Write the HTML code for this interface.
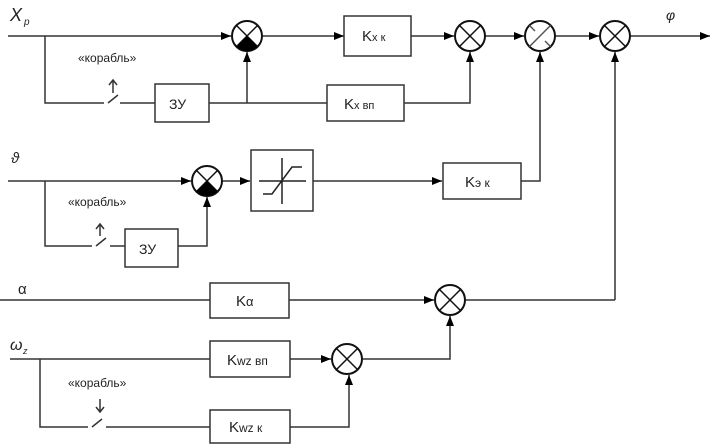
<!DOCTYPE html><html><head><style>body{margin:0;background:#fff}svg{display:block}text{font-family:"Liberation Sans",sans-serif;fill:#222}</style></head><body>
<svg width="712" height="446" viewBox="0 0 712 446" xmlns="http://www.w3.org/2000/svg">
<defs><marker id="a" markerWidth="10" markerHeight="8" refX="10" refY="4" orient="auto" markerUnits="userSpaceOnUse"><path d="M0,0L10,4L0,8z" fill="#000"/></marker></defs>
<g stroke="#333" stroke-width="1.5" fill="none">
<!-- row1 -->
<path d="M8,36H231" marker-end="url(#a)"/>
<path d="M262,36H344" marker-end="url(#a)"/>
<path d="M411,36H454" marker-end="url(#a)"/>
<path d="M485,36H524" marker-end="url(#a)"/>
<path d="M555,36H599" marker-end="url(#a)"/>
<path d="M630,36H710" marker-end="url(#a)"/>
<path d="M45,36V103H104M108,103L118,95M120,103H155"/>
<path d="M113,93V80M109,85L113,80L117,85"/>
<rect x="155" y="84" width="54" height="38"/>
<path d="M209,103H327"/>
<path d="M247,103V52" marker-end="url(#a)"/>
<rect x="344" y="16" width="67" height="40"/>
<rect x="327" y="85" width="77" height="36"/>
<path d="M404,103H470V52" marker-end="url(#a)"/>
<!-- row2 -->
<path d="M8,181H191" marker-end="url(#a)"/>
<path d="M222,181H250" marker-end="url(#a)"/>
<path d="M45,181V246H92M96,246L106,238M110,246H125"/>
<path d="M100,236V224M96,229L100,224L104,229"/>
<rect x="125" y="229" width="53" height="38"/>
<path d="M178,246H207V197" marker-end="url(#a)"/>
<rect x="251" y="150" width="62" height="61"/>
<path d="M313,181H442" marker-end="url(#a)"/>
<rect x="443" y="163" width="78" height="36"/>
<path d="M521,181H540V52" marker-end="url(#a)"/>
<path d="M615,300V52" marker-end="url(#a)"/>
<!-- limiter -->
<path d="M259,181H306M282,158V204M263,194H272L292,167H302" stroke="#222"/>
<!-- row3 -->
<path d="M0,300H210"/>
<rect x="210" y="283" width="79" height="35"/>
<path d="M289,300H434" marker-end="url(#a)"/>
<path d="M466,300H615"/>
<!-- row4 -->
<path d="M10,359H210"/>
<rect x="210" y="341" width="80" height="36"/>
<path d="M290,359H331" marker-end="url(#a)"/>
<path d="M363,359H450V316" marker-end="url(#a)"/>
<path d="M40,359V427H88M92,427L102,419M106,427H210"/>
<path d="M100,399V412M96,407L100,412L104,407"/>
<rect x="210" y="410" width="80" height="33"/>
<path d="M290,427H349V375" marker-end="url(#a)"/>
</g>
<!-- circles -->
<g stroke="#111" stroke-width="2" fill="#fff">
<circle cx="247" cy="36" r="15"/><circle cx="470" cy="36" r="15"/><circle cx="540" cy="36" r="15"/><circle cx="615" cy="36" r="15"/>
<circle cx="207" cy="181" r="15"/><circle cx="450" cy="300" r="15"/><circle cx="347" cy="359" r="15"/>
</g>
<g stroke="#111" stroke-width="1.5">
<path d="M236.4,25.4L257.6,46.6M257.6,25.4L236.4,46.6"/>
<path d="M459.4,25.4L480.6,46.6M480.6,25.4L459.4,46.6"/>
<path d="M550.6,25.4L529.4,46.6M529.4,25.4L535,31M545,41L550.6,46.6" stroke="#555"/>
<path d="M604.4,25.4L625.6,46.6M625.6,25.4L604.4,46.6"/>
<path d="M196.4,170.4L217.6,191.6M217.6,170.4L196.4,191.6"/>
<path d="M439.4,289.4L460.6,310.6M460.6,289.4L439.4,310.6"/>
<path d="M336.4,348.4L357.6,369.6M357.6,348.4L336.4,369.6"/>
</g>
<path d="M247,36L236.4,46.6A15,15 0 0 0 257.6,46.6Z" fill="#000"/>
<path d="M207,181L196.4,191.6A15,15 0 0 0 217.6,191.6Z" fill="#000"/>
<g font-size="14">
<text x="10" y="21" font-family="Liberation Serif" font-style="italic" font-size="18">X</text><text x="24" y="25" font-style="italic" font-size="10">p</text>
<text x="666" y="20" font-style="italic" font-size="14">φ</text>
<text x="11" y="163" font-style="italic" font-size="15">ϑ</text>
<text x="18" y="294" font-size="15">α</text>
<text x="10" y="350" font-style="italic" font-size="16">ω</text><text x="23" y="354" font-style="italic" font-size="9">z</text>
<text x="78" y="62" font-size="12">«корабль»</text>
<text x="68" y="206" font-size="12">«корабль»</text>
<text x="68" y="387" font-size="12">«корабль»</text>
<text x="169" y="109" font-size="14">ЗУ</text>
<text x="139" y="254" font-size="14">ЗУ</text>
<text x="362" y="41" font-size="15">K<tspan font-size="11">x к</tspan></text>
<text x="344" y="109" font-size="15">K<tspan font-size="11">x вп</tspan></text>
<text x="465" y="187" font-size="15">K<tspan font-size="12">э к</tspan></text>
<text x="236" y="306" font-size="15">K<tspan font-size="13">α</tspan></text>
<text x="227" y="365" font-size="15">K<tspan font-size="12">wz вп</tspan></text>
<text x="229" y="432" font-size="15">K<tspan font-size="12">wz к</tspan></text>
</g>
</svg></body></html>
